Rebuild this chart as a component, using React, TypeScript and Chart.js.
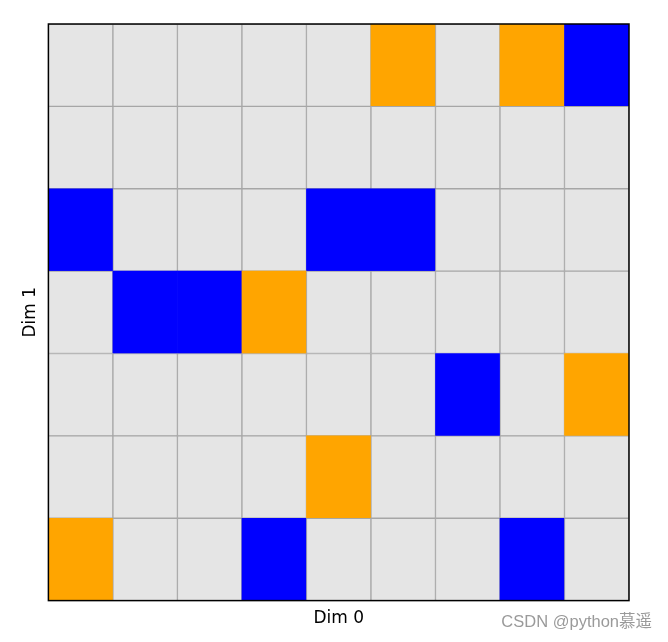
import React, { useEffect, useRef } from "react";
import { Chart, registerables } from "chart.js";

Chart.register(...registerables);

// Grid values: 0 = empty (grey), 1 = blue, 2 = orange
// Rows listed from top (Dim 1 = 6) to bottom (Dim 1 = 0)
const columns = ["0", "1", "2", "3", "4", "5", "6", "7", "8"];
const row6 = [0, 0, 0, 0, 0, 2, 0, 2, 1];
const row5 = [0, 0, 0, 0, 0, 0, 0, 0, 0];
const row4 = [1, 0, 0, 0, 1, 1, 0, 0, 0];
const row3 = [0, 1, 1, 2, 0, 0, 0, 0, 0];
const row2 = [0, 0, 0, 0, 0, 0, 1, 0, 2];
const row1 = [0, 0, 0, 0, 2, 0, 0, 0, 0];
const row0 = [2, 0, 0, 1, 0, 0, 0, 1, 0];
const rowsBottomUp = [row0, row1, row2, row3, row4, row5, row6];

const xTitle = "Dim 0";
const yTitle = "Dim 1";
const watermark = "CSDN @python慕遥";

const palette = ["#e5e5e5", "#0000ff", "#ffa500"];
const gridLine = "#a6a6a6";

export default function App() {
  const ref = useRef<HTMLCanvasElement | null>(null);

  useEffect(() => {
    if (!ref.current) return;
    const datasets = rowsBottomUp.map((row, i) => ({
      label: "row " + i,
      data: row.map(() => 1),
      backgroundColor: row.map((v) => palette[v]),
      borderColor: row.map((v) => (v === 0 ? gridLine : palette[v])),
      borderWidth: row.map((v) => (v === 0 ? 1 : 0)),
      borderSkipped: false as const,
      categoryPercentage: 1,
      barPercentage: 1,
      stack: "s",
    }));

    const frame = {
      id: "frame",
      afterDatasetsDraw(chart: any) {
        const { ctx, chartArea } = chart;
        ctx.save();
        ctx.strokeStyle = "#000";
        ctx.lineWidth = 1.5;
        ctx.strokeRect(
          chartArea.left,
          chartArea.top,
          chartArea.right - chartArea.left,
          chartArea.bottom - chartArea.top
        );
        ctx.restore();
      },
      afterDraw(chart: any) {
        const { ctx } = chart;
        ctx.save();
        ctx.fillStyle = "#9a9a9a";
        ctx.font = '16.5px "Liberation Sans", "Noto Sans CJK SC", sans-serif';
        ctx.textAlign = "right";
        ctx.textBaseline = "middle";
        ctx.fillText(watermark, 652, 622);
        ctx.restore();
      },
    };

    const chart = new Chart(ref.current, {
      type: "bar",
      data: { labels: columns, datasets },
      options: {
        animation: false,
        responsive: false,
        maintainAspectRatio: false,
        layout: { padding: { left: 20, right: 39, top: 24, bottom: 13 } },
        plugins: { legend: { display: false }, tooltip: { enabled: false } },
        scales: {
          x: {
            stacked: true,
            ticks: { display: false },
            grid: { display: false },
            border: { display: false },
            title: {
              display: true,
              text: xTitle,
              color: "#000",
              font: { size: 17, family: '"DejaVu Sans", sans-serif' },
              padding: { top: 0, bottom: 0 },
            },
          },
          y: {
            stacked: true,
            min: 0,
            max: 7,
            ticks: { display: false },
            grid: { display: false },
            border: { display: false },
            title: {
              display: true,
              text: yTitle,
              color: "#000",
              font: { size: 17, family: '"DejaVu Sans", sans-serif' },
              padding: { top: 0, bottom: 0 },
            },
          },
        },
      },
      plugins: [frame],
    });
    return () => chart.destroy();
  }, []);

  return (
    <div style={{ position: "absolute", left: 0, top: 0, width: 668, height: 642, background: "#fff" }}>
      <canvas ref={ref} width={668} height={642} style={{ display: "block" }} />
    </div>
  );
}
